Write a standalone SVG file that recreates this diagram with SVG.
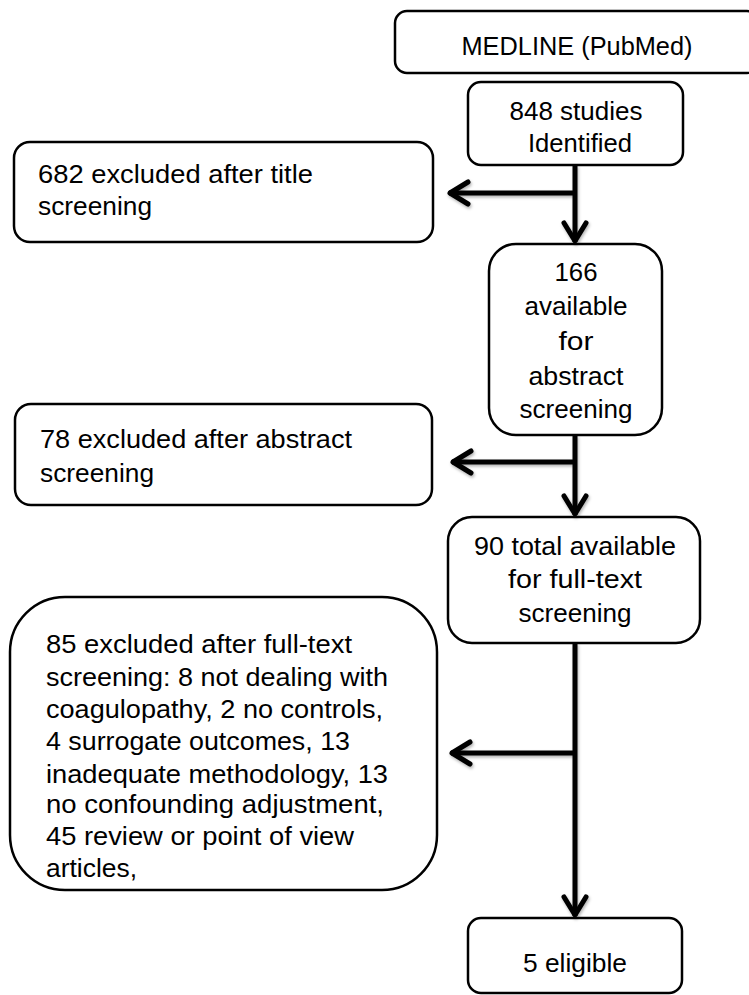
<svg xmlns="http://www.w3.org/2000/svg" width="749" height="995" viewBox="0 0 749 995">
<style>
.box{fill:#fff;stroke:#000;stroke-width:2.5}
.t{font-family:"Liberation Sans",Arial,sans-serif;font-size:26px;fill:#000}
.c{text-anchor:middle}
.ln{fill:none;stroke:#000;stroke-width:5}
</style>
<defs>
<marker id="ah" viewBox="-26 -16 30 32" refX="0" refY="0" markerWidth="30" markerHeight="32" markerUnits="userSpaceOnUse" orient="auto">
<path d="M-19,-11 L-1,0 L-19,11" fill="none" stroke="#000" stroke-width="5" stroke-linecap="round" stroke-linejoin="round"/>
</marker>
<filter id="sh" x="-20%" y="-20%" width="140%" height="140%">
<feDropShadow dx="1" dy="2" stdDeviation="1.5" flood-color="#000" flood-opacity="0.3"/>
</filter>
</defs>
<g id="medline">
<rect class="box" x="395" y="11" width="364" height="62" rx="12"/>
<text class="t c" x="577" y="55" textLength="231" lengthAdjust="spacingAndGlyphs">MEDLINE (PubMed)</text>
</g>
<g id="identified">
<rect class="box" x="468" y="82" width="215" height="83" rx="13"/>
<text class="t c" x="576" y="120" textLength="133" lengthAdjust="spacingAndGlyphs">848 studies</text>
<text class="t c" x="580" y="152" textLength="104" lengthAdjust="spacingAndGlyphs">Identified</text>
</g>
<g id="excl-title">
<rect class="box" x="14" y="142" width="419" height="100" rx="16"/>
<text class="t" x="38" y="183" textLength="275" lengthAdjust="spacingAndGlyphs">682 excluded after title</text>
<text class="t" x="38" y="215" textLength="114" lengthAdjust="spacingAndGlyphs">screening</text>
</g>
<g id="abstract-avail">
<rect class="box" x="489" y="244" width="173" height="191" rx="27"/>
<text class="t c" x="576" y="281" textLength="43" lengthAdjust="spacingAndGlyphs">166</text>
<text class="t c" x="576" y="315" textLength="103" lengthAdjust="spacingAndGlyphs">available</text>
<text class="t c" x="576" y="350" textLength="35" lengthAdjust="spacingAndGlyphs">for</text>
<text class="t c" x="576" y="385" textLength="95" lengthAdjust="spacingAndGlyphs">abstract</text>
<text class="t c" x="576" y="418" textLength="113" lengthAdjust="spacingAndGlyphs">screening</text>
</g>
<g id="excl-abstract">
<rect class="box" x="15" y="404" width="417" height="101" rx="16"/>
<text class="t" x="40" y="448" textLength="312" lengthAdjust="spacingAndGlyphs">78 excluded after abstract</text>
<text class="t" x="40" y="482" textLength="114" lengthAdjust="spacingAndGlyphs">screening</text>
</g>
<g id="fulltext-avail">
<rect class="box" x="448" y="517" width="252" height="126" rx="24"/>
<text class="t c" x="575" y="555" textLength="202" lengthAdjust="spacingAndGlyphs">90 total available</text>
<text class="t c" x="575" y="588" textLength="134" lengthAdjust="spacingAndGlyphs">for full-text</text>
<text class="t c" x="575" y="622" textLength="113" lengthAdjust="spacingAndGlyphs">screening</text>
</g>
<g id="excl-fulltext">
<rect class="box" x="10" y="597" width="427" height="293" rx="55"/>
<text class="t" x="46" y="653" textLength="306" lengthAdjust="spacingAndGlyphs">85 excluded after full-text</text>
<text class="t" x="46" y="686" textLength="342" lengthAdjust="spacingAndGlyphs">screening: 8 not dealing with</text>
<text class="t" x="46" y="718" textLength="337" lengthAdjust="spacingAndGlyphs">coagulopathy, 2 no controls,</text>
<text class="t" x="46" y="750" textLength="304" lengthAdjust="spacingAndGlyphs">4 surrogate outcomes, 13</text>
<text class="t" x="46" y="783" textLength="342" lengthAdjust="spacingAndGlyphs">inadequate methodology, 13</text>
<text class="t" x="46" y="813" textLength="338" lengthAdjust="spacingAndGlyphs">no confounding adjustment,</text>
<text class="t" x="46" y="845" textLength="308" lengthAdjust="spacingAndGlyphs">45 review or point of view</text>
<text class="t" x="46" y="877" textLength="91" lengthAdjust="spacingAndGlyphs">articles,</text>
</g>
<g id="eligible">
<rect class="box" x="468" y="918" width="214" height="75" rx="13"/>
<text class="t c" x="575" y="972" textLength="104" lengthAdjust="spacingAndGlyphs">5 eligible</text>
</g>
<g id="connectors" filter="url(#sh)">
<line class="ln" x1="575" y1="165" x2="575" y2="242" marker-end="url(#ah)"/>
<line class="ln" x1="577" y1="193" x2="449" y2="193" marker-end="url(#ah)"/>
<line class="ln" x1="575" y1="435" x2="575" y2="515" marker-end="url(#ah)"/>
<line class="ln" x1="577" y1="462" x2="452" y2="462" marker-end="url(#ah)"/>
<line class="ln" x1="575" y1="643" x2="575" y2="916" marker-end="url(#ah)"/>
<line class="ln" x1="577" y1="753" x2="451" y2="753" marker-end="url(#ah)"/>
</g>
</svg>
